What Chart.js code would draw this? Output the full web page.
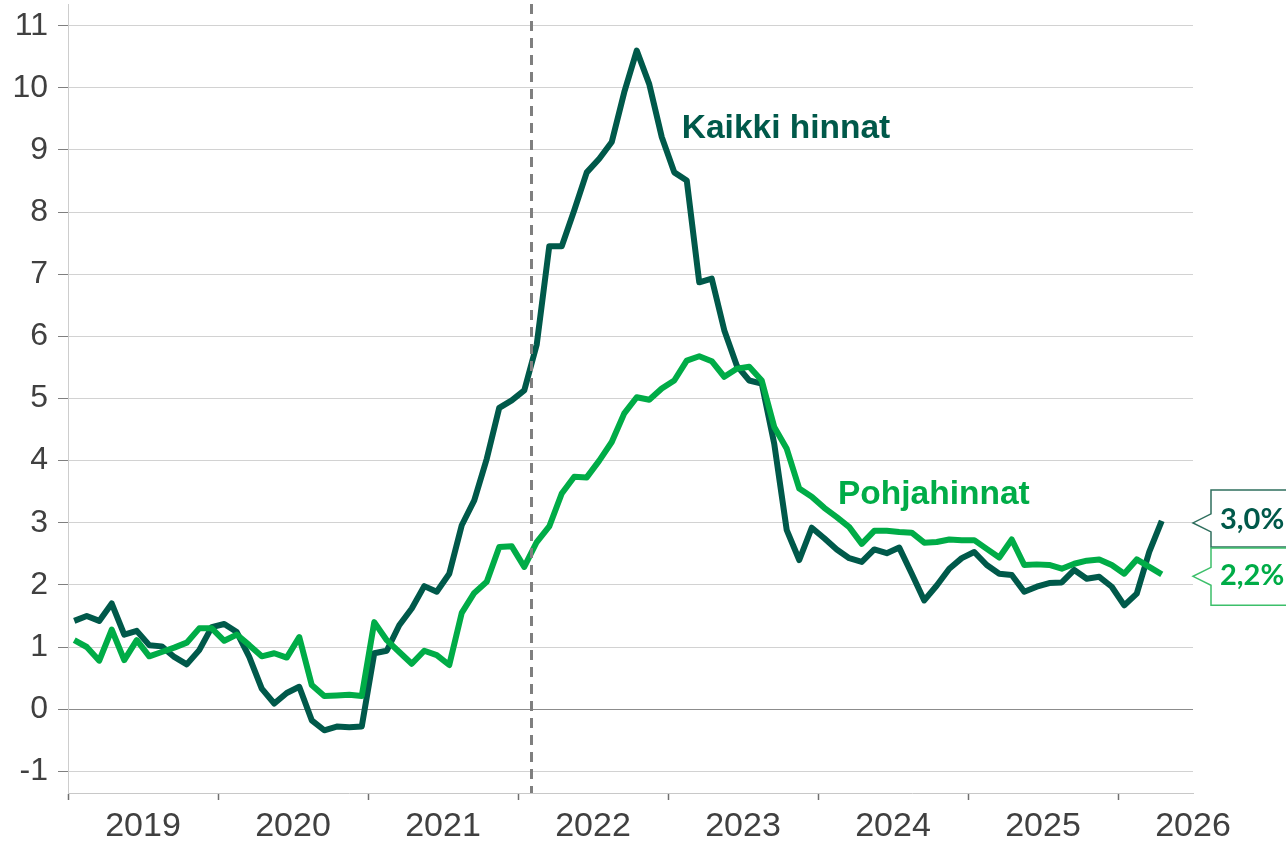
<!DOCTYPE html>
<html>
<head>
<meta charset="utf-8">
<script src="https://cdn.jsdelivr.net/npm/chart.js@4.4.1/dist/chart.umd.min.js"></script>
<style>
  html, body { margin: 0; padding: 0; background: #fff; }
  #wrap { width: 1286px; height: 843px; position: relative; }
</style>
</head>
<body>
<div id="wrap"><canvas id="inflaatio"></canvas></div>
<script>
// vuosien nimet x-akselilla
var vuodet = ['2019', '2020', '2021', '2022', '2023', '2024', '2025', '2026'];

// kuukausittaiset arvot tammikuusta 2019 alkaen, %
var kaikkiHinnat = [
  1.42, 1.50, 1.42, 1.70, 1.20, 1.26, 1.03, 1.01, 0.84, 0.72, 0.95, 1.32,
  1.37, 1.24, 0.84, 0.33, 0.09, 0.26, 0.36, -0.18, -0.34, -0.28, -0.29, -0.28,
  0.90, 0.94, 1.35, 1.62, 1.98, 1.89, 2.18, 2.96, 3.36, 4.03, 4.85, 4.97,
  5.13, 5.87, 7.45, 7.45, 8.03, 8.64, 8.86, 9.13, 9.93, 10.60, 10.06, 9.21,
  8.64, 8.51, 6.87, 6.93, 6.10, 5.53, 5.29, 5.24, 4.27, 2.88, 2.40, 2.92,
  2.75, 2.57, 2.43, 2.37, 2.57, 2.51, 2.60, 2.18, 1.75, 1.99, 2.26, 2.43,
  2.53, 2.32, 2.18, 2.16, 1.89, 1.97, 2.03, 2.04, 2.24, 2.10, 2.13, 1.97,
  1.67, 1.86, 2.53, 3.03
];
var pohjahinnat = [
  1.11, 1.00, 0.78, 1.28, 0.79, 1.11, 0.85, 0.92, 0.99, 1.07, 1.30, 1.30,
  1.10, 1.20, 1.03, 0.85, 0.90, 0.83, 1.16, 0.39, 0.21, 0.22, 0.23, 0.21,
  1.40, 1.11, 0.92, 0.73, 0.94, 0.87, 0.71, 1.55, 1.87, 2.05, 2.61, 2.62,
  2.29, 2.69, 2.94, 3.47, 3.74, 3.73, 4.00, 4.30, 4.76, 5.02, 4.98, 5.16,
  5.29, 5.61, 5.68, 5.60, 5.35, 5.48, 5.51, 5.29, 4.54, 4.19, 3.55, 3.42,
  3.24, 3.09, 2.93, 2.66, 2.87, 2.87, 2.85, 2.84, 2.68, 2.69, 2.73, 2.72,
  2.72, 2.58, 2.44, 2.73, 2.32, 2.33, 2.32, 2.26, 2.34, 2.39, 2.41, 2.32,
  2.18, 2.41, 2.29, 2.17
];

var sotaKuukausi = 37; // katkoviiva helmikuun 2022 alussa

var tumma = '#00594a';
var kirkas = '#00ac47';
var fontti = "'Liberation Sans', Arial, sans-serif";

function pisteet(arvot) {
  return arvot.map(function (v, i) { return { x: i + 0.5, y: v }; });
}

function muotoile(v) {
  return v.toFixed(1).replace('.', ',') + '%';
}

// omat merkinnat: katkoviiva, sarjojen nimet ja loppuarvolaatikot
var merkinnat = {
  id: 'merkinnat',
  afterDatasetsDraw: function (chart) {
    var ctx = chart.ctx;
    var ca = chart.chartArea;
    var xs = chart.scales.x;
    var ys = chart.scales.y;

    ctx.save();
    // katkoviiva
    var dx = Math.round(xs.getPixelForValue(sotaKuukausi)) + 0.5;
    ctx.strokeStyle = '#7f7f7f';
    ctx.lineWidth = 3;
    ctx.setLineDash([10, 7]);
    ctx.beginPath();
    ctx.moveTo(dx, ca.top);
    ctx.lineTo(dx, ca.bottom);
    ctx.stroke();
    ctx.setLineDash([]);

    // sarjojen nimet
    ctx.font = 'bold 33.5px ' + fontti;
    ctx.textAlign = 'left';
    ctx.textBaseline = 'alphabetic';
    ctx.fillStyle = tumma;
    ctx.fillText('Kaikki hinnat', xs.getPixelForValue(49.1), ys.getPixelForValue(9.2));
    ctx.fillStyle = kirkas;
    ctx.fillText('Pohjahinnat', xs.getPixelForValue(61.6), ys.getPixelForValue(3.3));

    // loppuarvot
    var viimK = kaikkiHinnat[kaikkiHinnat.length - 1];
    var viimP = pohjahinnat[pohjahinnat.length - 1];
    var t1 = ys.getPixelForValue(viimK) + 2;
    var t2 = ys.getPixelForValue(viimP) + 2;
    var xr = ca.right;
    var bx = xr + 18;
    var oik = chart.width + 2;
    var yla = t1 - 33, keski = t1 + 24, ala = t2 + 29;

    ctx.fillStyle = '#ffffff';
    ctx.lineWidth = 1.5;

    ctx.beginPath();
    ctx.moveTo(oik, yla);
    ctx.lineTo(bx, yla);
    ctx.lineTo(bx, t1 - 9);
    ctx.lineTo(xr, t1);
    ctx.lineTo(bx, t1 + 9);
    ctx.lineTo(bx, keski);
    ctx.lineTo(oik, keski);
    ctx.closePath();
    ctx.fill();
    ctx.strokeStyle = '#2f6f5e';
    ctx.stroke();

    ctx.beginPath();
    ctx.moveTo(oik, keski + 1);
    ctx.lineTo(bx, keski + 1);
    ctx.lineTo(bx, t2 - 9);
    ctx.lineTo(xr, t2);
    ctx.lineTo(bx, t2 + 9);
    ctx.lineTo(bx, ala);
    ctx.lineTo(oik, ala);
    ctx.fill();
    ctx.strokeStyle = '#3cbf6a';
    ctx.stroke();

    ctx.font = "bold 29px Lato, 'Open Sans', sans-serif";
    ctx.textBaseline = 'middle';
    ctx.fillStyle = tumma;
    ctx.fillText(muotoile(viimK), bx + 9, t1 - 3);
    ctx.fillStyle = kirkas;
    ctx.fillText(muotoile(viimP), bx + 9, t2 - 1);
    ctx.restore();
  }
};

new Chart(document.getElementById('inflaatio').getContext('2d'), {
  type: 'line',
  data: {
    datasets: [{
      label: 'Kaikki hinnat',
      data: pisteet(kaikkiHinnat),
      borderColor: tumma,
      borderWidth: 6,
      order: 2
    }, {
      label: 'Pohjahinnat',
      data: pisteet(pohjahinnat),
      borderColor: kirkas,
      borderWidth: 6,
      order: 1
    }]
  },
  options: {
    responsive: true,
    maintainAspectRatio: false,
    animation: false,
    devicePixelRatio: 1,
    layout: { padding: { top: 4, right: 93, left: 0, bottom: 0 } },
    elements: {
      point: { radius: 0 },
      line: { tension: 0, fill: false, borderJoinStyle: 'round' }
    },
    plugins: {
      legend: { display: false },
      tooltip: { enabled: false }
    },
    scales: {
      x: {
        type: 'linear',
        min: 0,
        max: 90,
        afterBuildTicks: function (s) {
          var t = [];
          for (var v = 0; v <= 90; v += 6) t.push({ value: v });
          s.ticks = t;
        },
        afterFit: function (s) {
          s.height = 50;
          s.paddingLeft = 0;
          s.paddingRight = 0;
        },
        grid: {
          drawOnChartArea: false,
          drawTicks: true,
          tickLength: 7,
          tickWidth: 1.5,
          tickColor: function (c) {
            return c.tick && c.tick.value % 12 === 0 ? '#6f6f6f' : 'rgba(0,0,0,0)';
          }
        },
        border: { display: true, color: '#c8c8c8', width: 1 },
        ticks: {
          autoSkip: false,
          maxRotation: 0,
          padding: 6,
          color: '#404040',
          font: { family: fontti, size: 34 },
          callback: function (v) {
            if (v % 12 === 6) return vuodet[(v - 6) / 12];
            return '';
          }
        }
      },
      y: {
        min: -1.35,
        max: 11.35,
        afterBuildTicks: function (s) {
          var t = [];
          for (var v = -1; v <= 11; v++) t.push({ value: v });
          s.ticks = t;
        },
        afterFit: function (s) {
          s.width = 68;
          s.paddingTop = 0;
          s.paddingBottom = 0;
        },
        grid: {
          color: function (c) {
            return c.tick && c.tick.value === 0 ? '#8c8c8c' : '#d2d2d2';
          },
          lineWidth: 1,
          tickLength: 10,
          tickColor: '#7f7f7f'
        },
        border: { display: true, color: '#cdcdcd', width: 1 },
        ticks: {
          padding: 10,
          color: '#404040',
          font: { family: fontti, size: 32 }
        }
      }
    }
  },
  plugins: [merkinnat]
});
</script>
</body>
</html>
